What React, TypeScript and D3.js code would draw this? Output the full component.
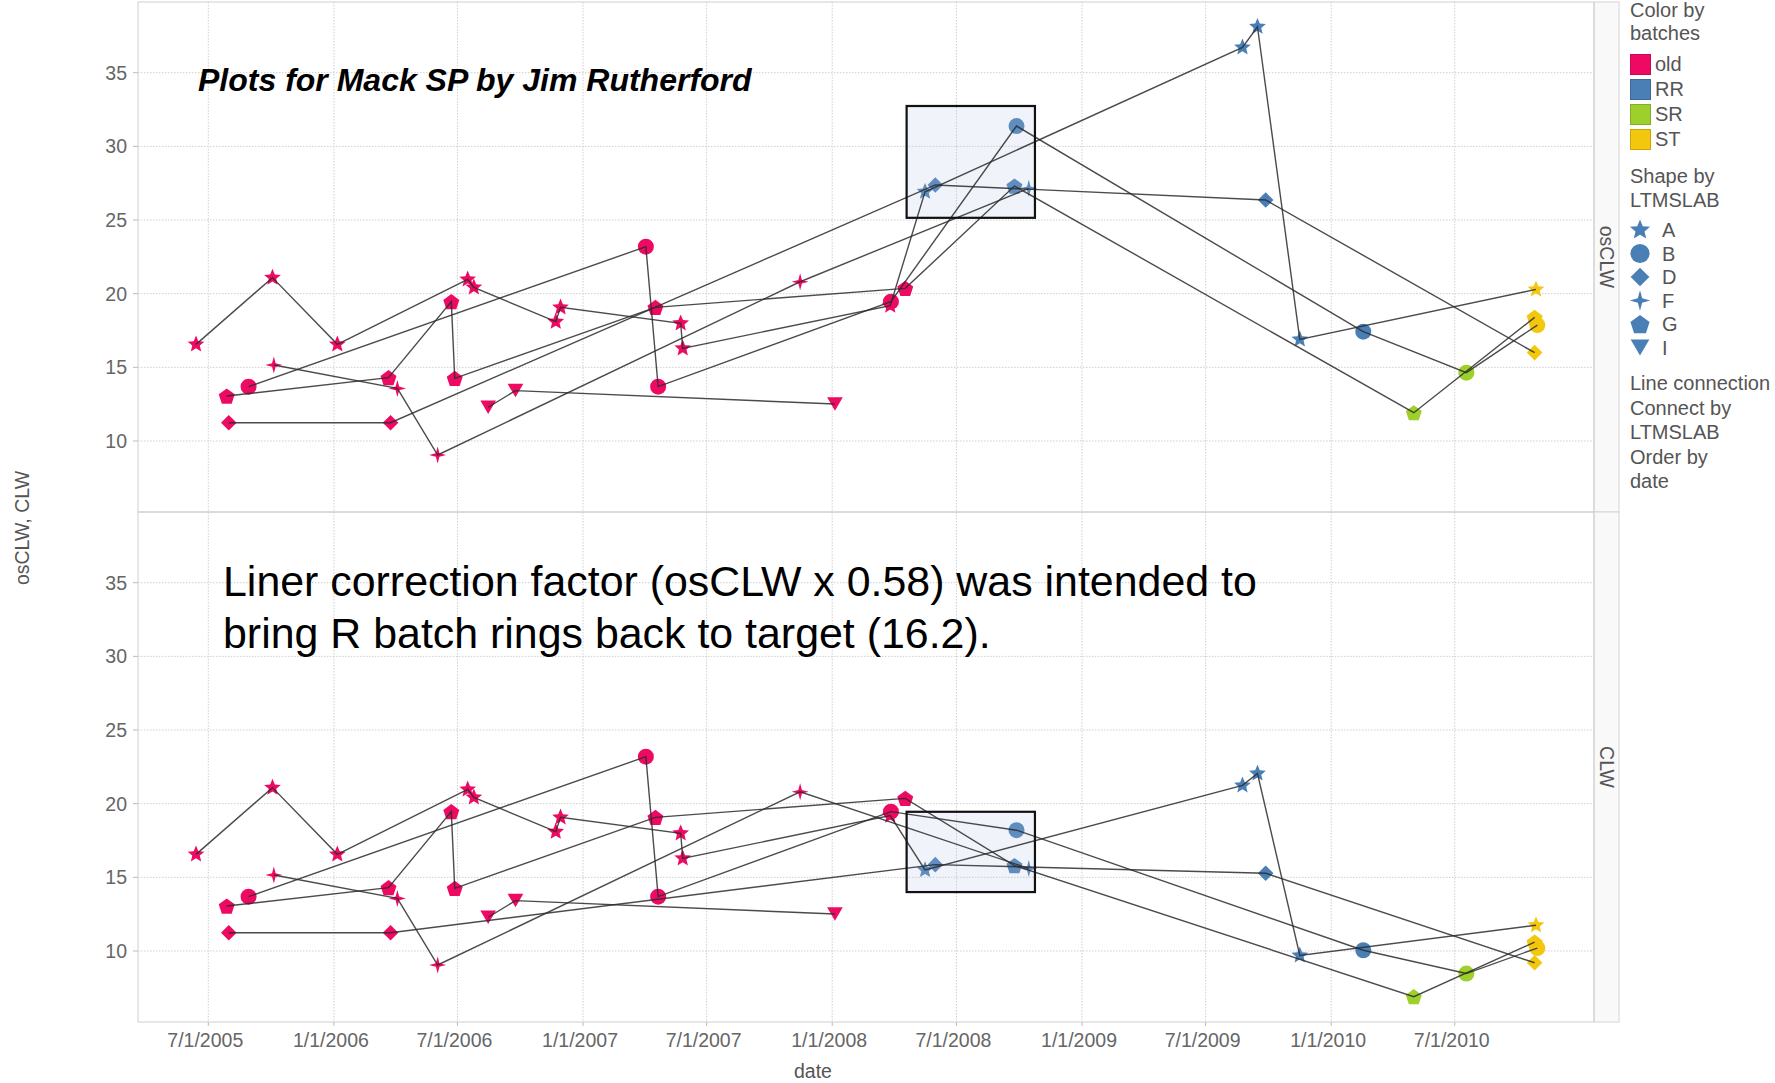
import React, { useEffect, useRef } from 'react'
import * as d3 from 'd3'

const W = 1775
const H = 1083
const FONT = '"Liberation Sans", Arial, sans-serif'

const batches = ['old', 'RR', 'SR', 'ST']
const batchColors = ['#ee0a62', '#4a7fb6', '#9dcf2d', '#f2c70d']
const labs = ['A', 'B', 'D', 'F', 'G', 'I']

// one entry per test, grouped by LTMSLAB
const testDates = [
    '2005-06-13', '2005-10-03', '2006-01-06', '2006-07-16', '2006-07-25', '2006-11-22', '2006-11-29', '2007-05-24', '2007-05-27', '2008-03-26', '2008-05-16', '2009-08-24', '2009-09-15', '2009-11-16', '2010-10-28',
    '2005-08-29', '2007-04-03', '2007-04-21', '2008-03-27', '2008-09-27', '2010-02-17', '2010-07-18', '2010-10-30',
    '2005-07-31', '2006-03-25', '2008-05-31', '2009-09-27', '2010-10-26',
    '2005-10-05', '2006-04-04', '2006-06-02', '2007-11-15', '2008-10-15',
    '2005-07-28', '2006-03-22', '2006-06-22', '2006-06-27', '2007-04-17', '2008-04-17', '2008-09-24', '2010-05-02', '2010-10-26',
    '2006-08-15', '2006-09-24', '2008-01-05',
]
const testBatch = [
    'old', 'old', 'old', 'old', 'old', 'old', 'old', 'old', 'old', 'old', 'RR', 'RR', 'RR', 'RR', 'ST',
    'old', 'old', 'old', 'old', 'RR', 'RR', 'SR', 'ST',
    'old', 'old', 'RR', 'RR', 'ST',
    'old', 'old', 'old', 'old', 'RR',
    'old', 'old', 'old', 'old', 'old', 'old', 'RR', 'SR', 'ST',
    'old', 'old', 'old',
]
const testLab = [
    'A', 'A', 'A', 'A', 'A', 'A', 'A', 'A', 'A', 'A', 'A', 'A', 'A', 'A', 'A',
    'B', 'B', 'B', 'B', 'B', 'B', 'B', 'B',
    'D', 'D', 'D', 'D', 'D',
    'F', 'F', 'F', 'F', 'F',
    'G', 'G', 'G', 'G', 'G', 'G', 'G', 'G', 'G',
    'I', 'I', 'I',
]
const osCLW = [
    16.56, 21.09, 16.56, 20.97, 20.43, 18.1, 19.07, 17.99, 16.29, 19.19, 26.92, 36.72, 38.12, 16.9, 20.29,
    13.69, 23.19, 13.69, 19.46, 31.38, 17.42, 14.64, 17.87,
    11.24, 11.24, 27.38, 26.36, 16.0,
    15.16, 13.57, 9.05, 20.81, 27.15,
    13.05, 14.3, 19.46, 14.25, 19.07, 20.36, 27.31, 11.92, 18.39,
    12.29, 13.42, 12.51,
]
const CLW = [
    16.56, 21.09, 16.56, 20.97, 20.43, 18.1, 19.07, 17.99, 16.29, 19.19, 15.5, 21.24, 22.05, 9.7, 11.75,
    13.69, 23.19, 13.69, 19.46, 18.2, 10.05, 8.47, 10.2,
    11.24, 11.24, 15.86, 15.28, 9.2,
    15.16, 13.57, 9.05, 20.81, 15.6,
    13.05, 14.3, 19.46, 14.25, 19.07, 20.36, 15.8, 6.9, 10.6,
    12.29, 13.42, 12.51,
]

const yTicks = [10, 15, 20, 25, 30, 35]
const xTickDates = ['2005-07-01', '2006-01-01', '2006-07-01', '2007-01-01', '2007-07-01', '2008-01-01', '2008-07-01', '2009-01-01', '2009-07-01', '2010-01-01', '2010-07-01']
const xTickLabels = ['7/1/2005', '1/1/2006', '7/1/2006', '1/1/2007', '7/1/2007', '1/1/2008', '7/1/2008', '1/1/2009', '7/1/2009', '1/1/2010', '7/1/2010']

// highlight boxes: [from date, to date, low, high]
const boxOsCLW = ['2008-04-19', '2008-10-24', 25.15, 32.74]
const boxCLW = ['2008-04-19', '2008-10-24', 14.0, 19.45]

const legendNotes = ['Line connection', 'Connect by', 'LTMSLAB', 'Order by', 'date']

// custom symbol shapes, size = radius
const poly = (ctx: any, pts: number[][]) => {
    pts.forEach((p, i) => (i ? ctx.lineTo(p[0], p[1]) : ctx.moveTo(p[0], p[1])))
    ctx.closePath()
}
const starN = (n: number, inner: number) => ({
    draw(ctx: any, r: number) {
        const pts = d3.range(n * 2).map(i => {
            const rad = i % 2 ? r * inner : r
            const a = -Math.PI / 2 + (i * Math.PI) / n
            return [rad * Math.cos(a), rad * Math.sin(a)]
        })
        poly(ctx, pts)
    },
})
const circleSym = { draw(ctx: any, r: number) { ctx.moveTo(r, 0); ctx.arc(0, 0, r, 0, 2 * Math.PI) } }
const diamondSym = { draw(ctx: any, r: number) { poly(ctx, [[0, -r], [r, 0], [0, r], [-r, 0]]) } }
const pentagonSym = {
    draw(ctx: any, r: number) {
        poly(ctx, d3.range(5).map(i => {
            const a = -Math.PI / 2 + (i * 2 * Math.PI) / 5
            return [r * Math.cos(a), r * Math.sin(a) + r * 0.1]
        }))
    },
}
const triDownSym = {
    draw(ctx: any, r: number) {
        const h = r * 0.75
        poly(ctx, [[-r * 0.87, -h], [r * 0.87, -h], [0, h]])
    },
}
const labShapes = [starN(5, 0.45), circleSym, diamondSym, starN(4, 0.3), pentagonSym, triDownSym]
const labSizes = [8.8, 8, 7.8, 8.5, 8.4, 9]

const App = () => {
    const ref = useRef<SVGSVGElement>(null)

    useEffect(() => {
        const svg = d3.select(ref.current)
        svg.selectAll('*').remove()
        const parse = d3.timeParse('%Y-%m-%d')
        const rows = testDates.map((d, i) => ({
            date: parse(d) as Date, batch: testBatch[i], lab: testLab[i], os: osCLW[i], clw: CLW[i],
        }))

        const left = 138, right = 1594, stripR = 1619
        const x = d3.scaleTime().domain([parse('2005-03-20') as Date, parse('2011-01-21') as Date]).range([left, right])
        const color = d3.scaleOrdinal<string, string>().domain(batches).range(batchColors)
        const shapeIdx = (lab: string) => labs.indexOf(lab)

        const panels = [
            { name: 'osCLW', top: 2, bottom: 512, val: (r: any) => r.os, box: boxOsCLW },
            { name: 'CLW', top: 512, bottom: 1022, val: (r: any) => r.clw, box: boxCLW },
        ]

        svg.append('rect').attr('width', W).attr('height', H).attr('fill', '#fff')

        panels.forEach(p => {
            const y = d3.scaleLinear().domain([5.18, 39.8]).range([p.bottom, p.top])
            const g = svg.append('g')

            // grid
            g.selectAll('line.hg').data(yTicks).enter().append('line')
                .attr('x1', left).attr('x2', right).attr('y1', d => y(d)).attr('y2', d => y(d))
                .attr('stroke', '#cfcfcf').attr('stroke-dasharray', '1.5,1.5')
            g.selectAll('line.vg').data(xTickDates).enter().append('line')
                .attr('x1', d => x(parse(d) as Date)).attr('x2', d => x(parse(d) as Date))
                .attr('y1', p.top).attr('y2', p.bottom)
                .attr('stroke', '#cfcfcf').attr('stroke-dasharray', '1.5,1.5')

            // y ticks
            g.selectAll('line.yt').data(yTicks).enter().append('line')
                .attr('x1', left - 5).attr('x2', left).attr('y1', d => y(d)).attr('y2', d => y(d))
                .attr('stroke', '#bbb')
            g.selectAll('text.yl').data(yTicks).enter().append('text')
                .attr('x', left - 11).attr('y', d => y(d)).attr('dy', '0.35em')
                .attr('text-anchor', 'end').attr('font-family', FONT).attr('font-size', 19.5).attr('fill', '#666')
                .text(d => d)

            // strip header
            g.append('rect').attr('x', right).attr('y', p.top).attr('width', stripR - right).attr('height', p.bottom - p.top)
                .attr('fill', '#f9f9f9').attr('stroke', '#d4d4d4')
            g.append('text')
                .attr('transform', `translate(${(right + stripR) / 2 - 7},${(p.top + p.bottom) / 2}) rotate(90)`)
                .attr('text-anchor', 'middle').attr('font-family', FONT).attr('font-size', 19.5).attr('fill', '#555')
                .text(p.name)

            // marks
            g.selectAll('path.mark').data(rows).enter().append('path')
                .attr('transform', d => `translate(${x(d.date)},${y(p.val(d))})`)
                .attr('d', d => d3.symbol().type(labShapes[shapeIdx(d.lab)] as any).size(labSizes[shapeIdx(d.lab)])() as string)
                .attr('fill', d => color(d.batch))

            // highlight box fill (over marks)
            const bx0 = x(parse(p.box[0] as string) as Date), bx1 = x(parse(p.box[1] as string) as Date)
            const by0 = y(p.box[3] as number), by1 = y(p.box[2] as number)
            g.append('rect').attr('x', bx0).attr('y', by0).attr('width', bx1 - bx0).attr('height', by1 - by0)
                .attr('fill', 'rgb(178,200,232)').attr('fill-opacity', 0.2)

            // connection lines by LTMSLAB ordered by date
            const line = d3.line<any>().x(d => x(d.date)).y(d => y(p.val(d)))
            labs.forEach(lab => {
                const pts = rows.filter(r => r.lab === lab).sort((a, b) => +a.date - +b.date)
                g.append('path').attr('d', line(pts) as string)
                    .attr('fill', 'none').attr('stroke', '#2b2b2b').attr('stroke-opacity', 0.85).attr('stroke-width', 1.4)
            })

            g.append('rect').attr('x', bx0).attr('y', by0).attr('width', bx1 - bx0).attr('height', by1 - by0)
                .attr('fill', 'none').attr('stroke', '#111').attr('stroke-width', 2.2)

            // panel border
            g.append('rect').attr('x', left).attr('y', p.top).attr('width', right - left).attr('height', p.bottom - p.top)
                .attr('fill', 'none').attr('stroke', '#cfcfcf')
        })

        // x axis
        const ax = svg.append('g')
        ax.selectAll('line').data(xTickDates).enter().append('line')
            .attr('x1', d => x(parse(d) as Date)).attr('x2', d => x(parse(d) as Date))
            .attr('y1', 1022).attr('y2', 1026).attr('stroke', '#bbb')
        ax.selectAll('text').data(xTickDates).enter().append('text')
            .attr('x', d => x(parse(d) as Date) - 3).attr('y', 1047)
            .attr('text-anchor', 'middle').attr('font-family', FONT).attr('font-size', 19.5).attr('fill', '#666')
            .text((d, i) => xTickLabels[i])
        svg.append('text').attr('x', 813).attr('y', 1078).attr('text-anchor', 'middle')
            .attr('font-family', FONT).attr('font-size', 19.5).attr('fill', '#555').text('date')
        svg.append('text').attr('transform', 'translate(22,528) rotate(-90)').attr('text-anchor', 'middle')
            .attr('dy', '0.35em').attr('font-family', FONT).attr('font-size', 19.5).attr('fill', '#555').text('osCLW, CLW')

        // annotations
        svg.append('text').attr('x', 198).attr('y', 91).attr('font-family', FONT).attr('font-size', 32)
            .attr('font-weight', 'bold').attr('font-style', 'italic').attr('fill', '#000')
            .text('Plots for Mack SP by Jim Rutherford')
        const note = svg.append('text').attr('font-family', FONT).attr('font-size', 42.9).attr('fill', '#000')
        note.append('tspan').attr('x', 223).attr('y', 596).text('Liner correction factor (osCLW x 0.58) was intended to')
        note.append('tspan').attr('x', 223).attr('y', 648).text('bring R batch rings back to target (16.2).')

        // legend
        const lg = svg.append('g').attr('font-family', FONT).attr('font-size', 20).attr('fill', '#555')
        const lx = 1630
        lg.append('text').attr('x', lx).attr('y', 17).text('Color by')
        lg.append('text').attr('x', lx).attr('y', 40).text('batches')
        batches.forEach((b, i) => {
            const ty = 54 + i * 25
            lg.append('rect').attr('x', lx + 0.5).attr('y', ty + 0.5).attr('width', 20).attr('height', 20)
                .attr('fill', batchColors[i]).attr('stroke', d3.color(batchColors[i])!.darker(0.5).toString())
            lg.append('text').attr('x', lx + 25).attr('y', ty + 17).text(b)
        })
        lg.append('text').attr('x', lx).attr('y', 183).text('Shape by')
        lg.append('text').attr('x', lx).attr('y', 207).text('LTMSLAB')
        labs.forEach((l, i) => {
            const cy = 230 + i * 23.5
            lg.append('path').attr('transform', `translate(${lx + 10},${cy})`)
                .attr('d', d3.symbol().type(labShapes[i] as any).size(labSizes[i] * 1.2)() as string)
                .attr('fill', batchColors[1])
            lg.append('text').attr('x', lx + 32).attr('y', cy + 7).text(l)
        })
        legendNotes.forEach((t, i) => {
            lg.append('text').attr('x', lx).attr('y', 390 + i * 24.6).text(t)
        })
    }, [])

    return <svg ref={ref} width={W} height={H} style={{ position: 'absolute', left: 0, top: 0 }} />
}

export default App
